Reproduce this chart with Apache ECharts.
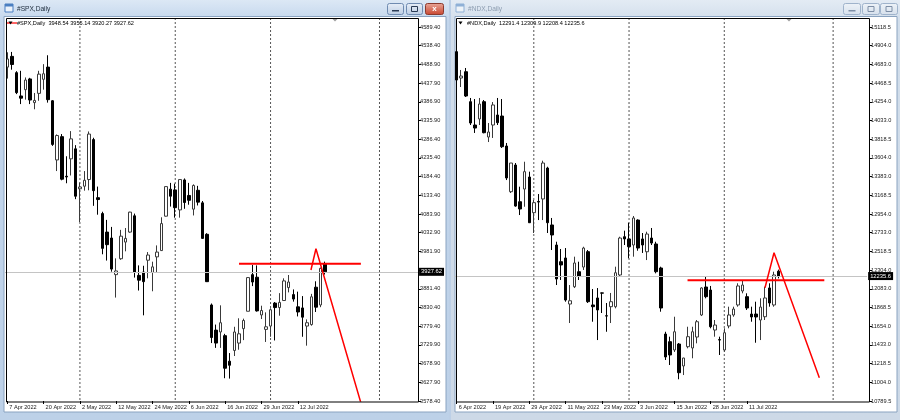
<!DOCTYPE html>
<html><head><meta charset="utf-8">
<script src="https://cdn.jsdelivr.net/npm/echarts@6/dist/echarts.min.js"></script>
<style>html,body{margin:0;padding:0;background:#bccfe6}#c{width:900px;height:420px}</style>
</head><body><div id="c"></div><script>
// ---------------- DATA ----------------
const SPX_TITLE = '#SPX,Daily';
const NDX_TITLE = '#NDX,Daily';
const SPX_HEADER = '#SPX,Daily  3948.54 3955.14 3920.27 3927.62';
const NDX_HEADER = '#NDX,Daily  12291.4 12309.9 12208.4 12235.6';

const SPX_DATES = ['7 Apr 2022','8 Apr 2022','11 Apr 2022','12 Apr 2022','13 Apr 2022','14 Apr 2022','18 Apr 2022','19 Apr 2022','20 Apr 2022','21 Apr 2022','22 Apr 2022','25 Apr 2022','26 Apr 2022','27 Apr 2022','28 Apr 2022','29 Apr 2022',
'2 May 2022','3 May 2022','4 May 2022','5 May 2022','6 May 2022','9 May 2022','10 May 2022','11 May 2022','12 May 2022','13 May 2022','16 May 2022','17 May 2022','18 May 2022','19 May 2022','20 May 2022','23 May 2022','24 May 2022','25 May 2022','26 May 2022','27 May 2022','31 May 2022',
'1 Jun 2022','2 Jun 2022','3 Jun 2022','6 Jun 2022','7 Jun 2022','8 Jun 2022','9 Jun 2022','10 Jun 2022','13 Jun 2022','14 Jun 2022','15 Jun 2022','16 Jun 2022','17 Jun 2022','21 Jun 2022','22 Jun 2022','23 Jun 2022','24 Jun 2022','27 Jun 2022','28 Jun 2022','29 Jun 2022','30 Jun 2022',
'1 Jul 2022','5 Jul 2022','6 Jul 2022','7 Jul 2022','8 Jul 2022','11 Jul 2022','12 Jul 2022','13 Jul 2022','14 Jul 2022','15 Jul 2022','18 Jul 2022','19 Jul 2022','20 Jul 2022'];
const NDX_DATES = ['6 Apr 2022'].concat(SPX_DATES);

const SPX_DATE_LABELS = ['7 Apr 2022','20 Apr 2022','2 May 2022','12 May 2022','24 May 2022','6 Jun 2022','16 Jun 2022','29 Jun 2022','12 Jul 2022'];
const NDX_DATE_LABELS = ['6 Apr 2022','19 Apr 2022','29 Apr 2022','11 May 2022','23 May 2022','3 Jun 2022','15 Jun 2022','28 Jun 2022','11 Jul 2022'];

// price scale tick labels, top to bottom ('' = hidden behind the price box)
const SPX_TICKS = ['4589.40','4538.40','4488.90','4437.90','4386.90','4335.90','4286.40','4235.40','4184.40','4133.40','4083.90','4032.90','3981.90','','3881.40','3830.40','3779.40','3729.90','3678.90','3627.90','3578.40'];
const NDX_TICKS = ['15118.5','14904.0','14683.0','14468.5','14254.0','14033.0','13818.5','13604.0','13383.0','13168.5','12954.0','12733.0','12518.5','12304.0','12083.0','11868.5','11654.0','11433.0','11218.5','11004.0','10789.5'];
const SPX_RANGE = [3578.4, 4589.4];
const NDX_RANGE = [10789.5, 15118.5];

// OHLC rows: [open, high, low, close]
const SPX_OHLC = [
[4481,4521,4450,4503],[4510,4522,4474,4488],[4466,4470,4408,4412],[4403,4471,4381,4397],[4420,4453,4393,4446],
[4449,4452,4381,4392],[4385,4411,4367,4391],[4410,4471,4390,4462],[4448,4489,4420,4463],[4481,4513,4385,4393],
[4390,4392,4268,4272],[4230,4299,4200,4296],[4293,4300,4175,4178],[4186,4240,4167,4184],[4233,4308,4188,4287],
[4260,4270,4124,4132],[4152,4169,4062,4157],[4159,4200,4147,4175],[4177,4307,4148,4300],[4285,4290,4106,4147],
[4128,4158,4082,4123],[4085,4090,3975,3991],[4035,4068,3958,4001],[4019,4049,3928,3935],[3920,3964,3858,3930],
[3963,4041,3960,4024],[4008,4046,3983,4018],[4035,4090,4033,4089],[4079,4085,3912,3927],[3918,3945,3877,3905],
[3927,3944,3810,3901],[3959,3981,3910,3973],[3926,3955,3875,3941],[3968,3999,3926,3981],[3985,4075,3984,4058],
[4078,4158,4077,4158],[4151,4168,4104,4132],[4149,4166,4074,4101],[4095,4177,4074,4177],[4176,4180,4098,4115],
[4134,4168,4109,4121],[4097,4164,4080,4161],[4148,4160,4107,4116],[4114,4119,4017,4018],[4029,4032,3900,3901],
[3838,3842,3735,3750],[3770,3785,3722,3735],[3765,3837,3722,3790],[3755,3760,3640,3667],[3686,3708,3639,3675],
[3715,3779,3700,3765],[3735,3802,3717,3760],[3774,3801,3743,3796],[3821,3913,3821,3912],[3920,3946,3889,3900],
[3913,3945,3820,3822],[3811,3836,3800,3823],[3772,3818,3738,3779],[3781,3829,3752,3825],[3843,3846,3742,3831],
[3831,3870,3809,3845],[3850,3910,3850,3903],[3885,3919,3872,3900],[3866,3880,3847,3854],[3833,3874,3807,3819],
[3830,3862,3752,3805],[3781,3799,3728,3790],[3785,3868,3782,3860],[3886,3902,3819,3832],[3838,3939,3832,3937],
[3948.54,3955.14,3920.27,3927.62]];

const NDX_OHLC = [
[14833,14852,14389,14505],[14528,14621,14424,14551],[14601,14644,14308,14320],[14254,14297,13984,14007],[13984,14285,13892,13949],
[14054,14297,13984,14227],[14254,14273,13888,13895],[13845,14007,13787,13903],[13984,14250,13834,14216],[14100,14297,13984,14011],
[14088,14285,13718,13733],[13741,13776,13347,13371],[13212,13544,13197,13544],[13521,13544,13038,13046],[13096,13270,12942,13012],
[13243,13559,13038,13444],[13382,13444,12850,12853],[12969,13116,12734,13085],[13099,13185,12884,13092],[13128,13571,12884,13544],
[13486,13501,12734,12853],[12827,12908,12537,12711],[12595,12633,12132,12202],[12402,12549,12190,12364],[12445,12560,11939,11958],
[11912,12132,11692,11950],[12112,12460,12097,12387],[12286,12402,12190,12236],[12340,12575,12306,12560],[12518,12537,11924,11939],
[11901,12086,11707,11881],[11982,12097,11495,11843],[12041,12045,11808,12038],[11776,11924,11591,11773],[11881,12040,11692,11939],
[11881,12344,11862,12274],[12248,12691,12228,12676],[12691,12761,12595,12665],[12665,12853,12441,12575],[12595,12931,12460,12908],
[12884,12892,12529,12560],[12665,12734,12503,12595],[12517,12749,12421,12722],[12676,12792,12595,12618],[12607,12633,12267,12286],
[12329,12344,11823,11866],[11565,11591,11264,11299],[11476,11534,11206,11322],[11380,11765,11357,11591],[11449,11461,11041,11117],
[11195,11290,11090,11287],[11418,11649,11399,11534],[11403,11649,11284,11591],[11530,11727,11457,11707],[11785,12106,11773,12098],
[12109,12228,11978,11997],[12074,12121,11631,11649],[11611,11727,11534,11669],[11500,11534,11322,11495],[11380,11631,11360,11580],
[11658,11881,11631,11785],[11785,11881,11765,11854],[11901,12152,11881,12121],[12063,12190,12036,12132],[11997,12036,11843,11866],
[11796,11881,11707,11762],[11796,11939,11464,11762],[11727,11978,11495,11877],[11765,12112,11727,11982],[12098,12152,11881,11924],
[11901,12286,11881,12248],[12291.4,12309.9,12208.4,12235.6]];

const SPX_LAST = 3927.62;
const NDX_LAST = 12235.6;

// drawn objects (bar-index, price)
const SPX_HLINE = [[51.05,3949.6],[77.9,3949.6]];
const SPX_TREND = [[66.9,3932.6],[68.0,3990],[79.0,3527]];
const NDX_HLINE = [[50.9,12186.5],[81.06,12186.5]];
const NDX_TREND = [[67.98,12101],[69.97,12506],[79.96,11059]];

// period separators (bar index)
const SPX_SEPS = [16,37,58,82];
const NDX_SEPS = [17,38,59,83];

// ---------------- BUILD ----------------
const N = 91;
function cats(dates){ const a = dates.slice(); let k=1; while(a.length<N){a.push('+'+(k++));} return a; }
function ohlc(rows){ return rows.map(r=>[r[0],r[3],r[2],r[1]]); }
const FONT = 'Liberation Sans';
const TXT = '#202020';

function gridSet(gi, dates, labels, ticks, range, labelOffset){
  const xAxes = [
    {type:'category', gridIndex:gi, position:'bottom', data:cats(dates), boundaryGap:true,
     axisLine:{show:false, onZero:false},
     axisTick:{show:true, alignWithLabel:true, length:3, lineStyle:{color:'#000'}, interval:(i,v)=>labels.includes(v)},
     axisLabel:{show:true, interval:(i,v)=>labels.includes(v), align:'left', margin:3, padding:[0,0,0,2],
       fontSize:5.6, fontFamily:FONT, color:TXT},
     splitLine:{show:false}},
    {type:'value', gridIndex:gi, position:'top', min:-0.5, max:N-0.5, show:false, axisLine:{onZero:false}}
  ];
  const yAxes = [
    {type:'value', gridIndex:gi, position:'left', min:range[0], max:range[1], show:false, splitLine:{show:false}, axisLine:{onZero:false}},
    {type:'value', gridIndex:gi, min:0, max:20, interval:1, inverse:true, position:'right', offset:labelOffset,
     axisLine:{show:false, onZero:false}, splitLine:{show:false},
     axisTick:{show:true, length:3, lineStyle:{color:'#000'}},
     axisLabel:{margin:2, fontSize:5.6, fontFamily:FONT, color:TXT, formatter:v=>ticks[v]}}
  ];
  return {xAxes, yAxes};
}

const L = gridSet(0, SPX_DATES, SPX_DATE_LABELS, SPX_TICKS, SPX_RANGE, 0);
const R = gridSet(1, NDX_DATES, NDX_DATE_LABELS, NDX_TICKS, NDX_RANGE, 1.9);

const xAxis = [L.xAxes[0], R.xAxes[0], L.xAxes[1], R.xAxes[1]];
const yAxis = [L.yAxes[0], L.yAxes[1], R.yAxes[0], R.yAxes[1]];

function candle(xi, yi, rows, last){
  return {type:'candlestick', xAxisIndex:xi, yAxisIndex:yi, data:ohlc(rows), barWidth:3, silent:true,
    itemStyle:{color:'#ffffff', color0:'#000000', borderColor:'#3a3a3a', borderColor0:'#000000', borderWidth:1},
    markLine:{silent:true, symbol:'none', animation:false,
      lineStyle:{color:'#c4c4c4', type:'solid', width:1},
      label:{position:'end', distance:1, formatter:String(last), color:'#fff', backgroundColor:'#000',
        fontSize:5.8, fontFamily:FONT, padding:[1,2,1,2]},
      data:[{yAxis:last}]}, z:3};
}
function lines(xi, yi, data, w){
  return {type:'line', xAxisIndex:xi, yAxisIndex:yi, data:data, symbol:'none', silent:true, clip:true,
    lineStyle:{color:'#ff0000', width:w}, z:5, animation:false};
}
function seps(xi, yi, list, range){
  const span = range[1]-range[0];
  return list.map(s=>({type:'line', xAxisIndex:xi, yAxisIndex:yi, clip:false, symbol:'none', silent:true, animation:false,
    data:[[s, range[1]+span*9/374],[s, range[0]-span*1/374]], lineStyle:{color:'#555', width:1, type:[2,2]}, z:1}));
}

const series = [
  candle(0,0,SPX_OHLC,SPX_LAST),
  candle(1,2,NDX_OHLC,NDX_LAST),
  lines(2,0,SPX_HLINE,2), lines(2,0,SPX_TREND,1.5),
  lines(3,2,NDX_HLINE,2), lines(3,2,NDX_TREND,1.5),
  ...seps(2,0,SPX_SEPS,SPX_RANGE),
  ...seps(3,2,NDX_SEPS,NDX_RANGE)
];

// window chrome
function windowChrome(x0, w, title, header, active, plotL, plotR, shiftX){
  const els = [];
  const tb = active ? ['#dce8f5','#c3d6ec'] : ['#e3ebf4','#d2deeb'];
  els.push({type:'rect', z:-5, shape:{x:x0, y:0, width:w, height:420},
    style:{fill:{type:'linear',x:0,y:0,x2:0,y2:1,colorStops:[{offset:0,color:tb[0]},{offset:0.05,color:tb[1]},{offset:1,color:active?'#bdd1e8':'#cdd9e7'}]}}});
  els.push({type:'rect', z:-4, shape:{x:x0+4, y:16.5, width:w-7, height:395.5}, style:{fill:'#ffffff', stroke:'#8aa3c0', lineWidth:1}});
  els.push({type:'rect', z:20, shape:{x:plotL+0.5, y:18.5, width:plotR-plotL, height:383.5}, style:{fill:'none', stroke:'#000', lineWidth:1}});
  els.push({type:'rect', z:10, shape:{x:x0+5, y:4, width:8, height:8}, style:{fill:active?'#eaf2fb':'#eef3f8', stroke:active?'#4a7fc1':'#8fb0d6', lineWidth:1}});
  els.push({type:'rect', z:10, shape:{x:x0+5, y:4, width:8, height:2.5}, style:{fill:active?'#4a7fc1':'#8fb0d6'}});
  els.push({type:'text', z:10, style:{x:x0+17, y:9, text:title, fontSize:6.6, fontFamily:FONT, fill:active?'#1b2a3a':'#8d9db0', verticalAlign:'middle'}});
  const bx = x0 + w;
  const btn = (x, wd, red) => ({type:'rect', z:10, shape:{x:x, y:3.5, width:wd, height:11, r:2},
    style:{fill:{type:'linear',x:0,y:0,x2:0,y2:1,colorStops: red ? [{offset:0,color:'#e9a99b'},{offset:1,color:'#c8442d'}] : (active?[{offset:0,color:'#e8eff8'},{offset:1,color:'#bccde3'}]:[{offset:0,color:'#eef3f8'},{offset:1,color:'#d6e0ec'}])},
      stroke: red ? '#8b3a2e' : (active?'#6f8bb0':'#9fb3cb'), lineWidth:1}});
  const glyph = active ? '#2a3b55' : '#7d8ea6';
  if (active){
    els.push(btn(bx-61.5, 16, false), btn(bx-42.5, 16, false), btn(bx-23.5, 18, true));
    els.push({type:'rect', z:11, shape:{x:bx-57, y:10, width:7, height:1.5}, style:{fill:glyph}});
    els.push({type:'rect', z:11, shape:{x:bx-37.5, y:6.5, width:6, height:5}, style:{fill:'none', stroke:glyph, lineWidth:1}});
    els.push({type:'text', z:11, style:{x:bx-14.5, y:9, text:'x', fontSize:8, fontWeight:'bold', fontFamily:FONT, fill:'#fff', align:'center', verticalAlign:'middle'}});
  } else {
    els.push(btn(bx-56.5, 17, false), btn(bx-37.5, 17, false), btn(bx-19.5, 17, false));
    els.push({type:'rect', z:11, shape:{x:bx-51.5, y:10, width:7, height:1.5}, style:{fill:glyph}});
    els.push({type:'rect', z:11, shape:{x:bx-32, y:6.5, width:6, height:5}, style:{fill:'none', stroke:glyph, lineWidth:1}});
    els.push({type:'rect', z:11, shape:{x:bx-14, y:6.5, width:6, height:5}, style:{fill:'none', stroke:glyph, lineWidth:1}});
  }
  els.push({type:'text', z:10, style:{x:plotL+11, y:23, text:header, fontSize:5.6, fontFamily:FONT, fill:'#000', verticalAlign:'middle'}});
  els.push({type:'polygon', z:10, shape:{points:[[plotL+2.5,21.5],[plotL+6.5,21.5],[plotL+4.5,24.5]]}, style:{fill:'#000'}});
  if (active) els.push({type:'line', z:9, shape:{x1:plotL+1, y1:23, x2:plotL+11, y2:23}, style:{stroke:'#ff0000', lineWidth:1.2}});
  els.push({type:'polygon', z:10, shape:{points:[[shiftX-3,18.5],[shiftX+3,18.5],[shiftX,21.5]]}, style:{fill:'#a0a0a0'}});
  return els;
}

const graphic = [
  ...windowChrome(0, 449, SPX_TITLE, SPX_HEADER, true, 6, 418, 335),
  ...windowChrome(451, 449, NDX_TITLE, NDX_HEADER, false, 456, 869, 789)
];

const chart = echarts.init(document.getElementById('c'), null, {renderer:'canvas'});
chart.setOption({
  animation:false,
  backgroundColor:'#bccfe6',
  grid:[
    {left:5.03, top:27, width:413.05, height:374, show:false},
    {left:454.43, top:27, width:412.7, height:374, show:false}
  ],
  xAxis, yAxis, series, graphic
});
</script></body></html>
